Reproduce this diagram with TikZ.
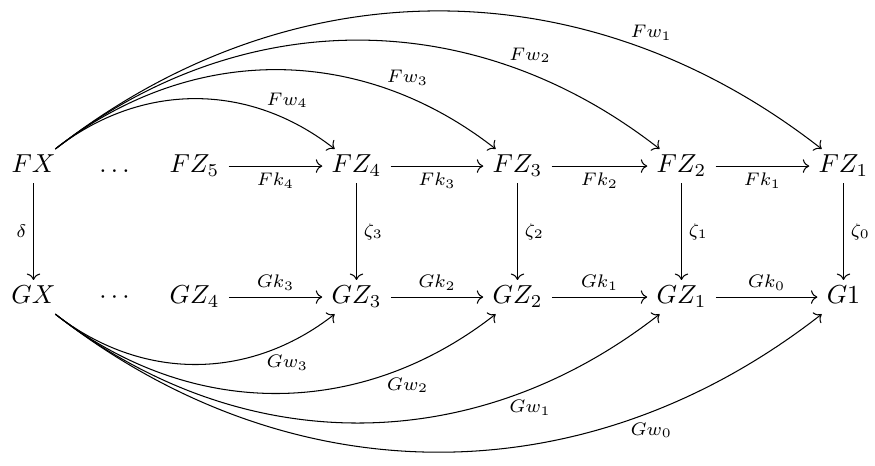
\documentclass[tikz,border=0pt]{standalone}
\usetikzlibrary{cd}
\begin{document}
\begin{tikzpicture}[x=0.3846pt,y=-0.3846pt,
  obj/.style={anchor=base, inner xsep=3.4pt, inner ysep=2.2pt, text height=6.83pt, text depth=1.5pt},
  arr/.style={-cm to, line width=0.4pt},
  lbl/.style={font=\scriptsize, inner sep=2.5pt},
  wlbl/.style={font=\scriptsize, inner sep=0.8pt, pos=0.74}]
\useasboundingbox (0,0) rectangle (875,466);
% top row
\node[obj] (FX)  at (33.5,173)  {$FX$};
\node[obj] (Fd)  at (114.5,173) {$\ldots$};
\node[obj] (FZ5) at (194.5,173) {$FZ_5$};
\node[obj] (FZ4) at (356.5,173) {$FZ_4$};
\node[obj] (FZ3) at (517.5,173) {$FZ_3$};
\node[obj] (FZ2) at (681.5,173) {$FZ_2$};
\node[obj] (FZ1) at (843.5,173) {$FZ_1$};
% bottom row
\node[obj] (GX)  at (33.5,304)  {$GX$};
\node[obj] (Gd)  at (114.5,304) {$\cdots$};
\node[obj] (GZ4) at (194.5,304) {$GZ_4$};
\node[obj] (GZ3) at (356.5,304) {$GZ_3$};
\node[obj] (GZ2) at (517.5,304) {$GZ_2$};
\node[obj] (GZ1) at (681.5,304) {$GZ_1$};
\node[obj] (G1)  at (843.5,304) {$G1$};
% horizontal arrows
\draw[arr] (FZ5) -- node[lbl, auto=right] {$Fk_4$} (FZ4);
\draw[arr] (FZ4) -- node[lbl, auto=right] {$Fk_3$} (FZ3);
\draw[arr] (FZ3) -- node[lbl, auto=right] {$Fk_2$} (FZ2);
\draw[arr] (FZ2) -- node[lbl, auto=right] {$Fk_1$} (FZ1);
\draw[arr] (GZ4) -- node[lbl, auto=left] {$Gk_3$} (GZ3);
\draw[arr] (GZ3) -- node[lbl, auto=left] {$Gk_2$} (GZ2);
\draw[arr] (GZ2) -- node[lbl, auto=left] {$Gk_1$} (GZ1);
\draw[arr] (GZ1) -- node[lbl, auto=left] {$Gk_0$} (G1);
% vertical arrows
\draw[arr] (FX)  -- node[lbl, auto=right] {$\delta$} (GX);
\draw[arr] (FZ4) -- node[lbl, auto=left] {$\zeta_3$} (GZ3);
\draw[arr] (FZ3) -- node[lbl, auto=left] {$\zeta_2$} (GZ2);
\draw[arr] (FZ2) -- node[lbl, auto=left] {$\zeta_1$} (GZ1);
\draw[arr] (FZ1) -- node[lbl, auto=left] {$\zeta_0$} (G1);
% curved top
\draw[arr] (FX) to[bend left=38] node[wlbl, auto=left] {$Fw_4$} (FZ4);
\draw[arr] (FX) to[bend left=38] node[wlbl, auto=left] {$Fw_3$} (FZ3);
\draw[arr] (FX) to[bend left=38] node[wlbl, auto=left] {$Fw_2$} (FZ2);
\draw[arr] (FX) to[bend left=38] node[wlbl, auto=left] {$Fw_1$} (FZ1);
% curved bottom
\draw[arr] (GX) to[bend right=38] node[wlbl, auto=right] {$Gw_3$} (GZ3);
\draw[arr] (GX) to[bend right=38] node[wlbl, auto=right] {$Gw_2$} (GZ2);
\draw[arr] (GX) to[bend right=38] node[wlbl, auto=right] {$Gw_1$} (GZ1);
\draw[arr] (GX) to[bend right=38] node[wlbl, auto=right] {$Gw_0$} (G1);
\end{tikzpicture}
\end{document}
